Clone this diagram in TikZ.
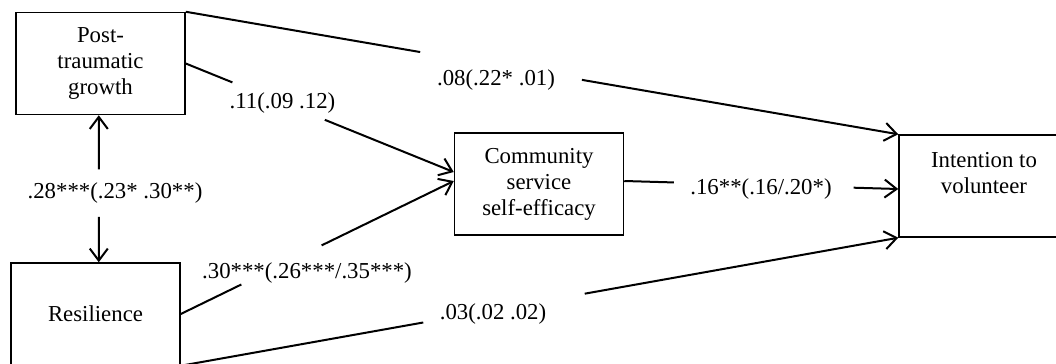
\documentclass[tikz,border=0pt]{standalone}
\usepackage{fontspec}
\setmainfont{Liberation Serif}
\usetikzlibrary{arrows.meta,calc,positioning}
\tikzset{
    box/.style={draw, line width=0.75pt, minimum width=84.5pt, minimum height=51pt, align=center, inner sep=0pt},
    effect/.style={line width=1pt, -{Straight Barb[length=6pt, width=9pt]}},
    seg/.style={line width=1pt},
    coef/.style={inner sep=0pt}
}

\begin{document}
\begin{tikzpicture}[x=0.5pt, y=-0.5pt, font=\fontsize{11.4}{13}\selectfont]
\useasboundingbox (0,0) rectangle (1056,364);

% variables
\node[box] (ptg) at (100.5,63.5) {Post-\\traumatic\\growth};
\node[box] (res) at (95.5,314) {Resilience};
\node[box] (cse) at (539,184) {Community\\service\\self-efficacy};
\node[box, minimum width=85pt] (int) at (984,186) {Intention to\\volunteer\\\phantom{x}};

% coefficients
\node[coef] (c08) at (496,80) {.08(.22* .01)};
\node[coef] (c11) at (282.5,103) {.11(.09 .12)};
\node[coef] (c28) at (115,193) {.28***(.23* .30**)};
\node[coef] (c30) at (307,273) {.30***(.26***/.35***)};
\node[coef] (c03) at (493,314) {.03(.02 .02)};
\node[coef] (c16) at (761,189) {.16**(.16/.20*)};

% gaps round the coefficients
\coordinate (g08a) at ($(ptg.north east)!0.329!(int.north west)$);
\coordinate (g08b) at ($(ptg.north east)!0.556!(int.north west)$);
\coordinate (g11a) at ($(ptg.east)!0.174!(cse.172)$);
\coordinate (g11b) at ($(ptg.east)!0.519!(cse.172)$);
\coordinate (g30a) at ($(res.east)!0.222!(cse.178)$);
\coordinate (g30b) at ($(res.east)!0.516!(cse.178)$);
\coordinate (g03a) at ($(res.south east)!0.338!(int.south west)$);
\coordinate (g03b) at ($(res.south east)!0.563!(int.south west)$);
\coordinate (g16a) at ($([yshift=1.5pt]cse.east)!0.181!([yshift=-1.5pt]int.west)$);
\coordinate (g16b) at ($([yshift=1.5pt]cse.east)!0.837!([yshift=-1.5pt]int.west)$);
\coordinate (vtop) at ($(ptg.south west)!0.49!(ptg.south east)$);
\coordinate (vbot) at (vtop |- res.north);
\coordinate (g28a) at ($(vtop)!0.369!(vbot)$);
\coordinate (g28b) at ($(vtop)!0.691!(vbot)$);

% paths
\draw[seg] (ptg.north east) -- (g08a);
\draw[effect] (g08b) -- (int.north west);
\draw[seg] (ptg.east) -- (g11a);
\draw[effect] (g11b) -- (cse.172);
\draw[seg] (res.east) -- (g30a);
\draw[effect] (g30b) -- (cse.178);
\draw[seg] (res.south east) -- (g03a);
\draw[effect] (g03b) -- (int.south west);
\draw[seg] ([yshift=1.5pt]cse.east) -- (g16a);
\draw[effect] (g16b) -- ([yshift=-1.5pt]int.west);
\draw[effect] (g28a) -- (vtop);
\draw[effect] (g28b) -- (vbot);
\end{tikzpicture}
\end{document}
